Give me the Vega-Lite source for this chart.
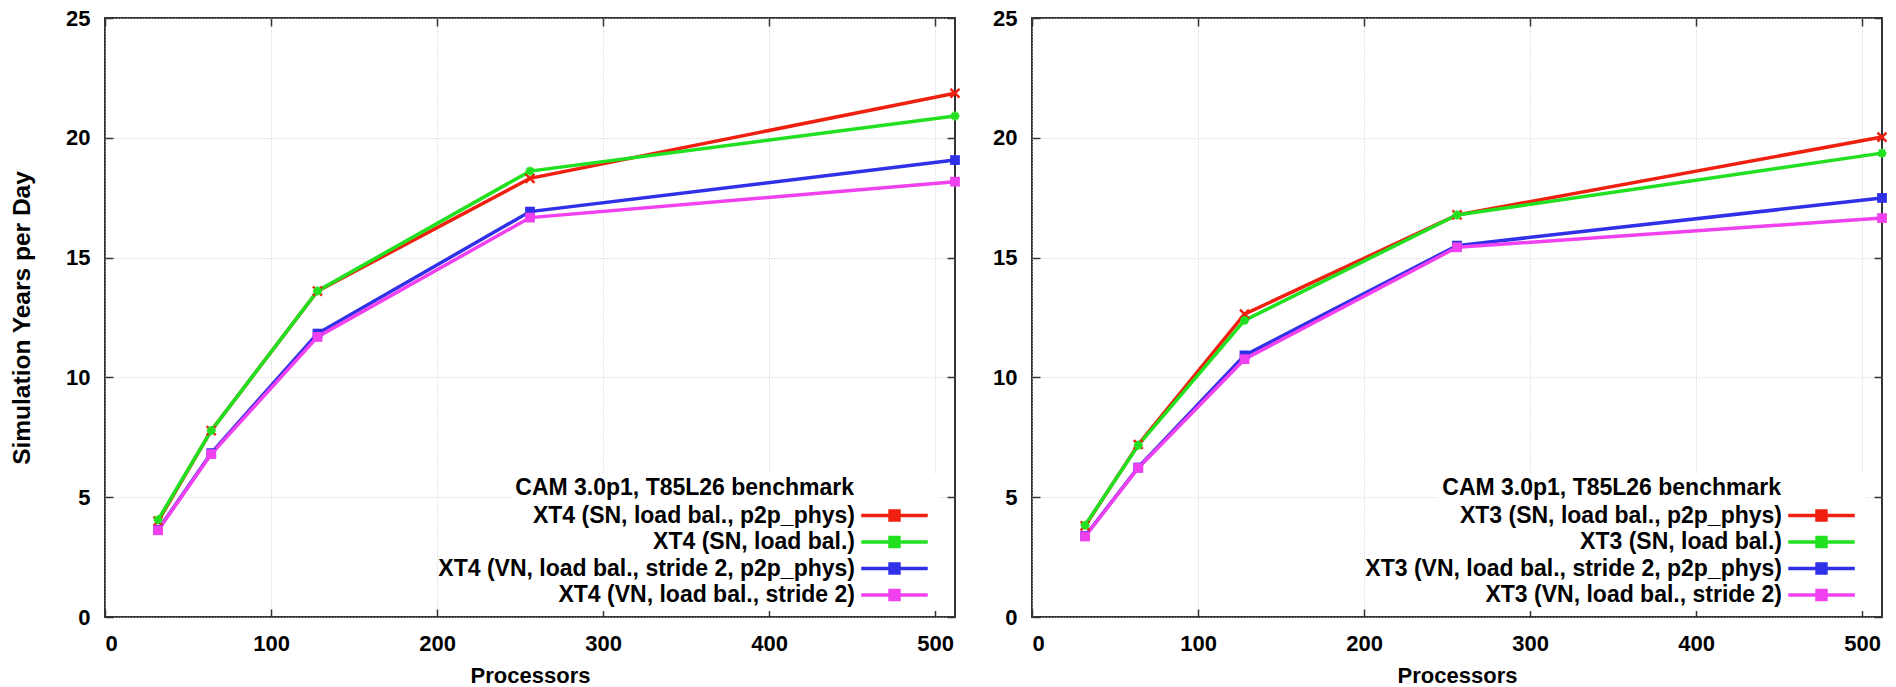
{
  "$schema": "https://vega.github.io/schema/vega-lite/v6.json",
  "padding": {"left": 8, "top": 6, "right": 15, "bottom": 0},
  "background": "white",
  "spacing": 77,
  "bounds": "flush",
  "resolve": {
    "scale": {"color": "independent"},
    "legend": {"color": "independent"}
  },
  "data": {
    "values": [
      {"machine": "XT4", "series": "XT4 (SN, load bal., p2p_phys)", "procs": 32, "ypd": 4.0},
      {"machine": "XT4", "series": "XT4 (SN, load bal., p2p_phys)", "procs": 64, "ypd": 7.78},
      {"machine": "XT4", "series": "XT4 (SN, load bal., p2p_phys)", "procs": 128, "ypd": 13.6},
      {"machine": "XT4", "series": "XT4 (SN, load bal., p2p_phys)", "procs": 256, "ypd": 18.31},
      {"machine": "XT4", "series": "XT4 (SN, load bal., p2p_phys)", "procs": 512, "ypd": 21.86},
      {"machine": "XT4", "series": "XT4 (SN, load bal.)", "procs": 32, "ypd": 4.06},
      {"machine": "XT4", "series": "XT4 (SN, load bal.)", "procs": 64, "ypd": 7.78},
      {"machine": "XT4", "series": "XT4 (SN, load bal.)", "procs": 128, "ypd": 13.61},
      {"machine": "XT4", "series": "XT4 (SN, load bal.)", "procs": 256, "ypd": 18.61},
      {"machine": "XT4", "series": "XT4 (SN, load bal.)", "procs": 512, "ypd": 20.91},
      {"machine": "XT4", "series": "XT4 (VN, load bal., stride 2, p2p_phys)", "procs": 32, "ypd": 3.64},
      {"machine": "XT4", "series": "XT4 (VN, load bal., stride 2, p2p_phys)", "procs": 64, "ypd": 6.84},
      {"machine": "XT4", "series": "XT4 (VN, load bal., stride 2, p2p_phys)", "procs": 128, "ypd": 11.83},
      {"machine": "XT4", "series": "XT4 (VN, load bal., stride 2, p2p_phys)", "procs": 256, "ypd": 16.92},
      {"machine": "XT4", "series": "XT4 (VN, load bal., stride 2, p2p_phys)", "procs": 512, "ypd": 19.07},
      {"machine": "XT4", "series": "XT4 (VN, load bal., stride 2)", "procs": 32, "ypd": 3.62},
      {"machine": "XT4", "series": "XT4 (VN, load bal., stride 2)", "procs": 64, "ypd": 6.8},
      {"machine": "XT4", "series": "XT4 (VN, load bal., stride 2)", "procs": 128, "ypd": 11.69},
      {"machine": "XT4", "series": "XT4 (VN, load bal., stride 2)", "procs": 256, "ypd": 16.67},
      {"machine": "XT4", "series": "XT4 (VN, load bal., stride 2)", "procs": 512, "ypd": 18.17},
      {"machine": "XT3", "series": "XT3 (SN, load bal., p2p_phys)", "procs": 32, "ypd": 3.8},
      {"machine": "XT3", "series": "XT3 (SN, load bal., p2p_phys)", "procs": 64, "ypd": 7.2},
      {"machine": "XT3", "series": "XT3 (SN, load bal., p2p_phys)", "procs": 128, "ypd": 12.64},
      {"machine": "XT3", "series": "XT3 (SN, load bal., p2p_phys)", "procs": 256, "ypd": 16.78},
      {"machine": "XT3", "series": "XT3 (SN, load bal., p2p_phys)", "procs": 512, "ypd": 20.03},
      {"machine": "XT3", "series": "XT3 (SN, load bal.)", "procs": 32, "ypd": 3.83},
      {"machine": "XT3", "series": "XT3 (SN, load bal.)", "procs": 64, "ypd": 7.17},
      {"machine": "XT3", "series": "XT3 (SN, load bal.)", "procs": 128, "ypd": 12.38},
      {"machine": "XT3", "series": "XT3 (SN, load bal.)", "procs": 256, "ypd": 16.78},
      {"machine": "XT3", "series": "XT3 (SN, load bal.)", "procs": 512, "ypd": 19.36},
      {"machine": "XT3", "series": "XT3 (VN, load bal., stride 2, p2p_phys)", "procs": 32, "ypd": 3.38},
      {"machine": "XT3", "series": "XT3 (VN, load bal., stride 2, p2p_phys)", "procs": 64, "ypd": 6.24},
      {"machine": "XT3", "series": "XT3 (VN, load bal., stride 2, p2p_phys)", "procs": 128, "ypd": 10.92},
      {"machine": "XT3", "series": "XT3 (VN, load bal., stride 2, p2p_phys)", "procs": 256, "ypd": 15.5},
      {"machine": "XT3", "series": "XT3 (VN, load bal., stride 2, p2p_phys)", "procs": 512, "ypd": 17.49},
      {"machine": "XT3", "series": "XT3 (VN, load bal., stride 2)", "procs": 32, "ypd": 3.36},
      {"machine": "XT3", "series": "XT3 (VN, load bal., stride 2)", "procs": 64, "ypd": 6.22},
      {"machine": "XT3", "series": "XT3 (VN, load bal., stride 2)", "procs": 128, "ypd": 10.76},
      {"machine": "XT3", "series": "XT3 (VN, load bal., stride 2)", "procs": 256, "ypd": 15.43},
      {"machine": "XT3", "series": "XT3 (VN, load bal., stride 2)", "procs": 512, "ypd": 16.65}
    ]
  },
  "config": {
    "font": "Liberation Sans",
    "view": {"stroke": "#333333", "strokeWidth": 2},
    "axis": {
      "labelFont": "Liberation Sans",
      "labelFontWeight": "bold",
      "labelFontSize": 22,
      "labelColor": "#000000",
      "titleFont": "Liberation Sans",
      "titleFontWeight": "bold",
      "titleFontSize": 22,
      "titleColor": "#000000",
      "gridColor": "#c8c8c8",
      "gridDash": [1, 2],
      "gridWidth": 1,
      "domain": false,
      "tickColor": "#333333",
      "tickSize": -8,
      "tickWidth": 1.5
    },
    "legend": {
      "orient": "none",
      "legendX": 406,
      "legendY": 455,
      "titleFont": "Liberation Sans", "titleFontSize": 23, "titleFontWeight": "bold", "titleColor": "#000000",
      "titleAnchor": "end", "titlePadding": 4, "titleLimit": 0,
      "labelFont": "Liberation Sans", "labelFontSize": 23, "labelFontWeight": "bold", "labelColor": "#000000",
      "labelAlign": "right", "labelOffset": -51, "labelLimit": 0,
      "symbolStrokeWidth": 3.5,
      "rowPadding": 2.5, "padding": 4, "fillColor": "white"
    }
  },
  "hconcat": [
    {
      "width": 850,
      "height": 599,
      "transform": [{"filter": "datum.machine === 'XT4'"}],
      "resolve": {"axis": {"x": "independent", "y": "independent"}},
      "encoding": {
        "color": {
          "field": "series", "type": "nominal",
          "scale": {
            "domain": ["XT4 (SN, load bal., p2p_phys)", "XT4 (SN, load bal.)", "XT4 (VN, load bal., stride 2, p2p_phys)", "XT4 (VN, load bal., stride 2)"],
            "range": ["#f02010", "#20e020", "#3030e8", "#f040f0"]
          },
          "legend": {
            "title": "CAM 3.0p1, T85L26 benchmark",
            "symbolType": "M-3.5,0L3.5,0M-0.47,-0.47L0.47,-0.47L0.47,0.47L-0.47,0.47Z",
            "symbolSize": 361,
            "encode": {"title": {"update": {"dx": {"value": -81}}}}
          }
        }
      },
      "layer": [
        {
          "mark": {"type": "line", "strokeWidth": 3.5},
          "encoding": {
            "x": {"field": "procs", "type": "quantitative", "scale": {"domain": [0, 512], "nice": false},
                  "axis": {"values": [0, 100, 200, 300, 400, 500], "title": "Processors", "labelPadding": 24, "titlePadding": 11}},
            "y": {"field": "ypd", "type": "quantitative", "scale": {"domain": [0, 25], "nice": false},
                  "axis": {"values": [0, 5, 10, 15, 20, 25], "title": "Simulation Years per Day", "titleFontSize": 24.5, "labelPadding": 23, "titlePadding": 31}}
          }
        },
        {
          "transform": [{"filter": {"field": "series", "equal": "XT4 (SN, load bal., p2p_phys)"}}],
          "mark": {"type": "point", "shape": "M-1,-1L1,1M-1,1L1,-1", "filled": false, "size": 80, "strokeWidth": 2.5, "opacity": 1},
          "encoding": {
            "x": {"field": "procs", "type": "quantitative", "axis": null},
            "y": {"field": "ypd", "type": "quantitative", "axis": null}
          }
        },
        {
          "transform": [{"filter": {"field": "series", "equal": "XT4 (SN, load bal.)"}}],
          "mark": {"type": "point", "shape": "M-1,0L1,0M0,-1L0,1M-0.7,-0.7L0.7,0.7M-0.7,0.7L0.7,-0.7", "filled": false, "size": 80, "strokeWidth": 2.5, "opacity": 1},
          "encoding": {
            "x": {"field": "procs", "type": "quantitative", "axis": null},
            "y": {"field": "ypd", "type": "quantitative", "axis": null}
          }
        },
        {
          "transform": [{"filter": {"field": "series", "oneOf": ["XT4 (VN, load bal., stride 2, p2p_phys)", "XT4 (VN, load bal., stride 2)"]}}],
          "mark": {"type": "point", "shape": "square", "filled": true, "size": 95, "opacity": 1},
          "encoding": {
            "x": {"field": "procs", "type": "quantitative",
                  "axis": {"orient": "top", "values": [0, 100, 200, 300, 400, 500], "labels": false, "title": null, "grid": false}},
            "y": {"field": "ypd", "type": "quantitative",
                  "axis": {"orient": "right", "values": [0, 5, 10, 15, 20, 25], "labels": false, "title": null, "grid": false}}
          }
        }
      ]
    },
    {
      "width": 850,
      "height": 599,
      "transform": [{"filter": "datum.machine === 'XT3'"}],
      "resolve": {"axis": {"x": "independent", "y": "independent"}},
      "encoding": {
        "color": {
          "field": "series", "type": "nominal",
          "scale": {
            "domain": ["XT3 (SN, load bal., p2p_phys)", "XT3 (SN, load bal.)", "XT3 (VN, load bal., stride 2, p2p_phys)", "XT3 (VN, load bal., stride 2)"],
            "range": ["#f02010", "#20e020", "#3030e8", "#f040f0"]
          },
          "legend": {
            "title": "CAM 3.0p1, T85L26 benchmark",
            "symbolType": "M-3.5,0L3.5,0M-0.47,-0.47L0.47,-0.47L0.47,0.47L-0.47,0.47Z",
            "symbolSize": 361,
            "encode": {"title": {"update": {"dx": {"value": -81}}}}
          }
        }
      },
      "layer": [
        {
          "mark": {"type": "line", "strokeWidth": 3.5},
          "encoding": {
            "x": {"field": "procs", "type": "quantitative", "scale": {"domain": [0, 512], "nice": false},
                  "axis": {"values": [0, 100, 200, 300, 400, 500], "title": "Processors", "labelPadding": 24, "titlePadding": 11}},
            "y": {"field": "ypd", "type": "quantitative", "scale": {"domain": [0, 25], "nice": false},
                  "axis": {"values": [0, 5, 10, 15, 20, 25], "title": null, "labelPadding": 23}}
          }
        },
        {
          "transform": [{"filter": {"field": "series", "equal": "XT3 (SN, load bal., p2p_phys)"}}],
          "mark": {"type": "point", "shape": "M-1,-1L1,1M-1,1L1,-1", "filled": false, "size": 80, "strokeWidth": 2.5, "opacity": 1},
          "encoding": {
            "x": {"field": "procs", "type": "quantitative", "axis": null},
            "y": {"field": "ypd", "type": "quantitative", "axis": null}
          }
        },
        {
          "transform": [{"filter": {"field": "series", "equal": "XT3 (SN, load bal.)"}}],
          "mark": {"type": "point", "shape": "M-1,0L1,0M0,-1L0,1M-0.7,-0.7L0.7,0.7M-0.7,0.7L0.7,-0.7", "filled": false, "size": 80, "strokeWidth": 2.5, "opacity": 1},
          "encoding": {
            "x": {"field": "procs", "type": "quantitative", "axis": null},
            "y": {"field": "ypd", "type": "quantitative", "axis": null}
          }
        },
        {
          "transform": [{"filter": {"field": "series", "oneOf": ["XT3 (VN, load bal., stride 2, p2p_phys)", "XT3 (VN, load bal., stride 2)"]}}],
          "mark": {"type": "point", "shape": "square", "filled": true, "size": 95, "opacity": 1},
          "encoding": {
            "x": {"field": "procs", "type": "quantitative",
                  "axis": {"orient": "top", "values": [0, 100, 200, 300, 400, 500], "labels": false, "title": null, "grid": false}},
            "y": {"field": "ypd", "type": "quantitative",
                  "axis": {"orient": "right", "values": [0, 5, 10, 15, 20, 25], "labels": false, "title": null, "grid": false}}
          }
        }
      ]
    }
  ]
}
